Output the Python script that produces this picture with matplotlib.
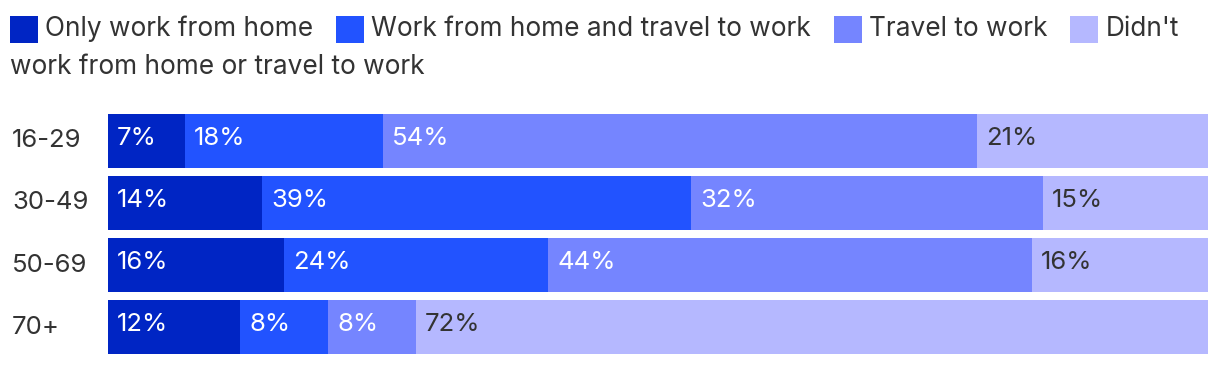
import matplotlib
matplotlib.use("Agg")
import matplotlib.pyplot as plt
from matplotlib.patches import Rectangle
from matplotlib.transforms import ScaledTranslation
import numpy as np

categories = ["16-29", "30-49", "50-69", "70+"]
series_names = ["Only work from home", "Work from home and travel to work",
                "Travel to work", "Didn't work from home or travel to work"]
only_home = [7, 14, 16, 12]
home_and_travel = [18, 39, 24, 8]
travel = [54, 32, 44, 8]
neither = [21, 15, 16, 72]
series = [only_home, home_and_travel, travel, neither]
colors = ["#0025C4", "#2253FF", "#7585FF", "#B5B8FF"]
label_colors = ["white", "white", "white", "#333333"]

plt.rcParams['font.family'] = ['Inter', 'DejaVu Sans']
W, H = 1220, 366
fig = plt.figure(figsize=(W/100, H/100), dpi=100)
FS_LEG = 18.9
FS = 18.5
TXT = "#333333"

ax = fig.add_axes([108/W, (H-354)/H, 1100/W, 240/H])
y = np.arange(len(categories))
left = np.zeros(len(categories))
for vals, c, lc in zip(series, colors, label_colors):
    bars = ax.barh(y, vals, left=left, height=0.87, color=c, linewidth=0)
    for b, v in zip(bars, vals):
        ax.annotate(f"{v}%", (b.get_x(), b.get_y() + b.get_height()/2),
                    xytext=(6.5, 1.8), textcoords="offset points",
                    ha="left", va="center", color=lc, fontsize=FS)
    left += np.array(vals)
ax.set_xlim(0, 100)
ax.set_ylim(3.435, -0.435)
ax.set_yticks(y)
ax.set_yticklabels(categories, fontsize=FS, color=TXT, ha="left")
ax.tick_params(axis="y", length=0, pad=69)
shift = ScaledTranslation(0, 1.8/72, fig.dpi_scale_trans)
for lab in ax.get_yticklabels():
    lab.set_transform(lab.get_transform() + shift)
ax.set_xticks([])
for s in ax.spines.values():
    s.set_visible(False)

# Legend drawn manually, wrapping like the reference
fig.canvas.draw()
renderer = fig.canvas.get_renderer()
x = 10
line1_base = H - 36.5
sqw, sqh = 28, 27
for i, (name, c) in enumerate(zip(series_names, colors)):
    fig.patches.append(Rectangle((x/W, (H-43)/H), sqw/W, sqh/H, color=c,
                                 linewidth=0, transform=fig.transFigure, figure=fig))
    x += sqw + 7
    if i < 3:
        t = fig.text(x/W, line1_base/H, name, fontsize=FS_LEG, color=TXT,
                     ha="left", va="baseline")
        bb = t.get_window_extent(renderer)
        x += bb.width + 23
    else:
        words = name.split(" ")
        first = words[0]
        rest = " ".join(words[1:])
        fig.text(x/W, line1_base/H, first, fontsize=FS_LEG, color=TXT,
                 ha="left", va="baseline")
        fig.text(10/W, (H-74.5)/H, rest, fontsize=FS_LEG, color=TXT,
                 ha="left", va="baseline")

fig.savefig("out.png", dpi=100, facecolor="white")
